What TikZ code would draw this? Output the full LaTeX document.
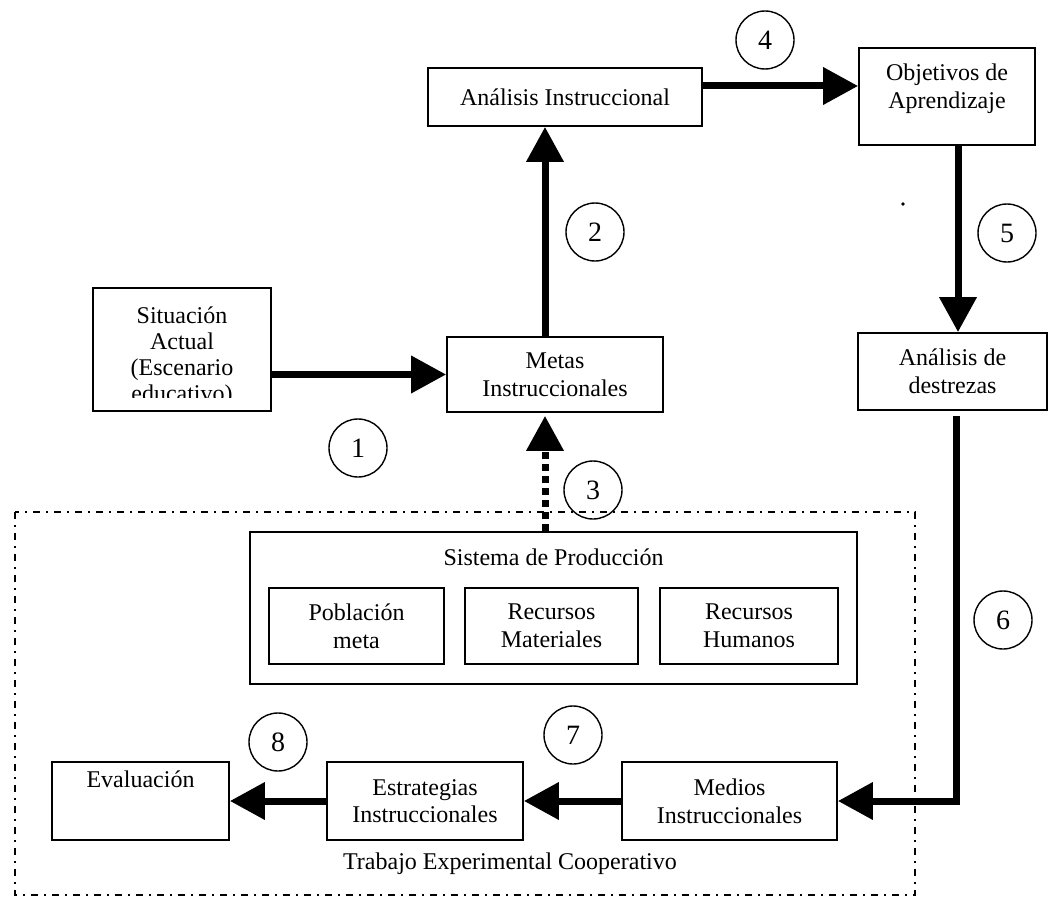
\documentclass[tikz,border=0pt]{standalone}
\usepackage{fontspec}
\setmainfont{Liberation Serif}
\usetikzlibrary{arrows.meta}
\begin{document}
\begin{tikzpicture}[x=0.5pt,y=-0.5pt,
  every node/.style={font=\fontsize{12}{13.8}\selectfont},
  box/.style={draw, line width=0.9pt, rectangle, inner sep=0pt, align=center},
  txt/.style={inner sep=0pt, align=center},
  num/.style={draw, circle, line width=0.7pt, minimum size=29pt, inner sep=0pt, font=\fontsize{14}{16}\selectfont},
  arr/.style={line width=3.5pt, -{Triangle[length=17.5pt,width=18pt]}},
  dotarr/.style={line width=3.5pt, dash pattern=on 3.5pt off 2.5pt, -{Triangle[length=17.5pt,width=18pt]}},
  frame/.style={line width=1pt, dash pattern=on 3.5pt off 3pt on 1pt off 3pt}]
\useasboundingbox (0,0) rectangle (1049,899);

% cooperative frame
\draw[frame] (15,512) rectangle (915,895);
\node[txt, anchor=base] (trab) at (510,869) {Trabajo Experimental Cooperativo};

% boxes
\node[box, minimum width=137pt, minimum height=29pt] (ai) at (565,97) {Análisis Instruccional};
\node[box, minimum width=88pt, minimum height=48.5pt] (obj) at (947,96.5) {};
\node[txt] (objt) at ([yshift=3.75pt]obj.center) {Objetivos de\\Aprendizaje};
\node[box, minimum width=89pt, minimum height=61.5pt] (sit) at (182,349.5) {};
\begin{scope}
  \clip (sit.north west) rectangle ([yshift=7pt]sit.south east);
  \node[txt, anchor=base] (sit1) at (182,323) {Situación};
  \node[txt, anchor=base] (sit2) at (182,349) {Actual};
  \node[txt, anchor=base] (sit3) at (182,375) {(Escenario};
  \node[txt, anchor=base] (sit4) at (182,401) {educativo)};
\end{scope}
\node[box, minimum width=108pt, minimum height=37.5pt] (metas) at (555,374.5) {Metas\\Instruccionales};
\node[box, minimum width=94.5pt, minimum height=38.5pt] (des) at (952.5,371.5) {Análisis de\\destrezas};

\node[box, minimum width=303.5pt, minimum height=76pt] (sis) at (553.5,608) {};
\node[txt, anchor=base] (sist) at ([yshift=21.5pt]sis.center) {Sistema de Producción};
\node[box, minimum width=87.5pt, minimum height=38pt] (pob) at (356.5,626) {Población\\meta};
\node[box, minimum width=86.5pt, minimum height=38pt] (rmat) at (551.5,626) {Recursos\\Materiales};
\node[box, minimum width=89pt, minimum height=38pt] (rhum) at (749,626) {Recursos\\Humanos};

\node[box, minimum width=88.5pt, minimum height=39pt] (eval) at (140.5,801) {};
\node[txt, anchor=base] (evalt) at ([yshift=7pt]eval.center) {Evaluación};
\node[box, minimum width=98pt, minimum height=39pt] (est) at (425,801) {Estrategias\\Instruccionales};
\node[box, minimum width=107.5pt, minimum height=39pt] (med) at (729.5,801) {Medios\\Instruccionales};

% number circles
\node[num] (n1) at (358,448) {1};
\node[num] (n2) at (595,232) {2};
\node[num] (n3) at (593,490) {3};
\node[num] (n4) at (765,40) {4};
\node[num] (n5) at (1007,233) {5};
\node[num] (n6) at (1003,620) {6};
\node[num] (n7) at (573,735) {7};
\node[num] (n8) at (278,742) {8};

% stray dot
\fill (903,204) circle[radius=0.9pt];

% connectors
\coordinate (a2s) at ([xshift=-5pt]metas.north);
\coordinate (a3s) at ([xshift=-4.25pt]sis.north);
\coordinate (a4s) at ([yshift=5.5pt]ai.east);
\coordinate (a5s) at ([xshift=5.5pt]obj.south);
\coordinate (a6s) at ([xshift=1.75pt]des.south);

\draw[arr] (sit.east |- metas.west) -- (metas.west);
\draw[arr] (a2s) -- (a2s |- ai.south);
\draw[dotarr, shorten >=1.5pt] (a3s) -- (a3s |- metas.south);
\draw[arr] (a4s) -- (a4s -| obj.west);
\draw[arr] (a5s) -- (a5s |- des.north);
\draw[arr, shorten <=2.5pt] (a6s) |- (med.east);
\draw[arr] (med.west) -- (est.east);
\draw[arr] (est.west) -- (eval.east);
\end{tikzpicture}
\end{document}
